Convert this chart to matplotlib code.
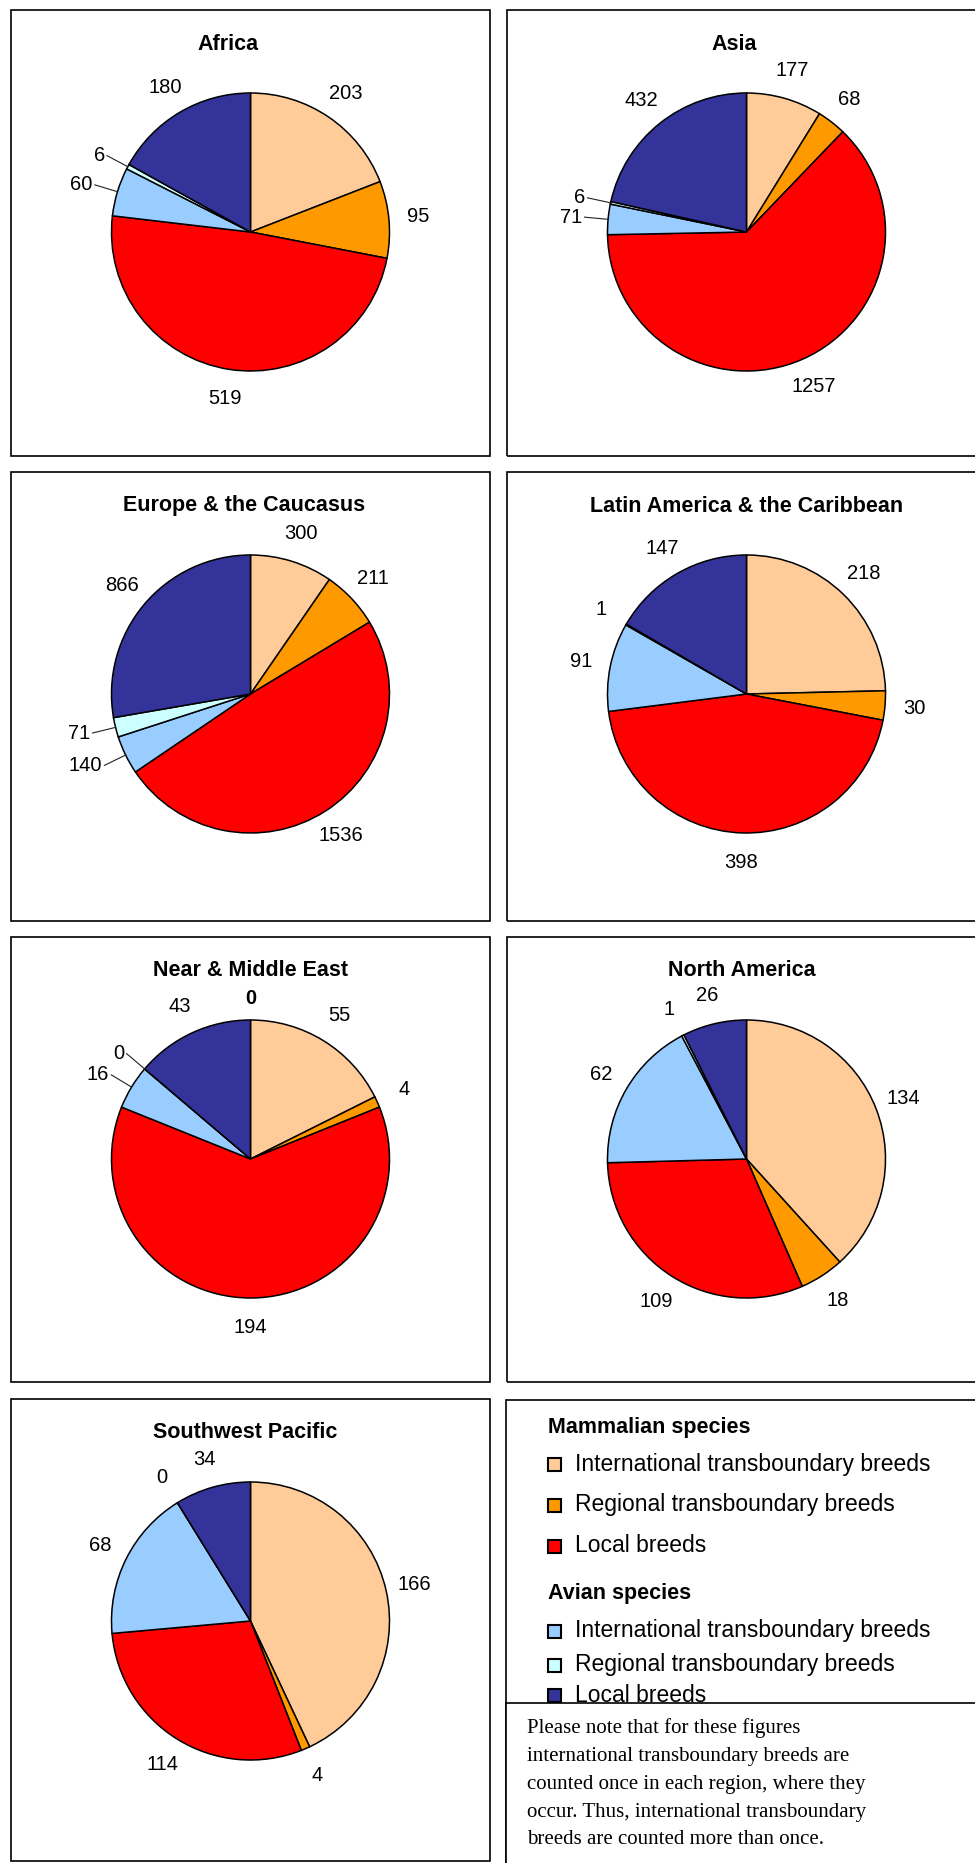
import numpy as np
import matplotlib.pyplot as plt
from matplotlib.patches import Rectangle

plt.rcParams["font.family"] = ["Liberation Sans", "DejaVu Sans"]

W, H = 975, 1863

# values per region, slice order:
# mammal intl, mammal regional, mammal local, avian intl, avian regional, avian local
regions = ["Africa", "Asia", "Europe & the Caucasus", "Latin America & the Caribbean",
           "Near & Middle East", "North America", "Southwest Pacific"]
africa = [203, 95, 519, 60, 6, 180]
asia = [177, 68, 1257, 71, 6, 432]
europe = [300, 211, 1536, 140, 71, 866]
latin_america = [218, 30, 398, 91, 1, 147]
near_east = [55, 4, 194, 16, 0, 43]
north_america = [134, 18, 109, 62, 1, 26]
sw_pacific = [166, 4, 114, 68, 0, 34]
near_east_extra = "0"

breed_types = ["International transboundary breeds", "Regional transboundary breeds", "Local breeds"]
groups = ["Mammalian species", "Avian species"]
colors = ["#FFCC99", "#FF9900", "#FF0000", "#99CCFF", "#CCFFFF", "#333399"]

note_lines = ["Please note that for these figures",
              "international transboundary breeds are",
              "counted once in each region, where they",
              "occur. Thus, international transboundary",
              "breeds are counted more than once."]

# labels that Excel drew with leader lines
leaders = {"Africa": [3, 4], "Asia": [3, 4], "Europe & the Caucasus": [3, 4],
           "Near & Middle East": [3, 4]}

# panel boxes in pixels
cols = [(11, 490), (507, 986)]
rows = [(10, 456), (472, 921), (937, 1382), (1399, 1861)]
title_dx = [-22, -12, -6, 0, 0, -5, -5]
R = 139


def Y(y):
    return H - y


fig = plt.figure(figsize=(W / 100, H / 100), dpi=100)
ax = fig.add_axes([0, 0, 1, 1])

data = [africa, asia, europe, latin_america, near_east, north_america, sw_pacific]
for i, (name, vals) in enumerate(zip(regions, data)):
    x0, x1 = cols[i % 2]
    y0, y1 = rows[i // 2]
    ax.add_patch(Rectangle((x0, Y(y1)), x1 - x0, y1 - y0, fill=False,
                           edgecolor="black", linewidth=1.2))
    cx = (x0 + x1) / 2
    cy = y0 + 222
    ax.pie(vals, colors=colors, startangle=90, counterclock=False,
           center=(cx, Y(cy)), radius=R,
           wedgeprops=dict(edgecolor="black", linewidth=1.1))
    ax.text(cx + title_dx[i], Y(y0 + 34), name, ha="center", va="center",
            fontsize=15.5, fontweight="bold")

    v = np.array(vals, dtype=float)
    mid = np.cumsum(v) - v / 2
    theta = np.deg2rad(90 - mid / v.sum() * 360)
    for j, val in enumerate(vals):
        dx, dy = np.cos(theta[j]), np.sin(theta[j])
        if j in leaders.get(name, []):
            ex, ey = cx + R * dx, Y(cy) + R * dy
            lx, ly = cx + 1.17 * R * dx, Y(cy) + 1.17 * R * dy
            ax.plot([ex, lx], [ey, ly], color="#222222", linewidth=0.8)
            ax.text(lx - 2, ly, str(val), ha="right", va="center", fontsize=14.5)
        else:
            ax.text(cx + 1.21 * R * dx, Y(cy) + 1.21 * R * dy, str(val),
                    ha="center", va="center", fontsize=14.5)
    if name == "Near & Middle East":
        ax.text(cx, Y(cy) + R + 22, near_east_extra, ha="center", va="center",
                fontsize=14.5, fontweight="bold")

# legend box
ax.add_patch(Rectangle((506, Y(1875)), 484, 1875 - 1400, fill=False,
                       edgecolor="black", linewidth=1.2))
head_y = [1427, 1593]
item_y = [[1464, 1505, 1546], [1631, 1665, 1695]]
for g, grp in enumerate(groups):
    ax.text(548, Y(head_y[g]), grp, ha="left", va="center", fontsize=15.5,
            fontweight="bold")
    for k, lab in enumerate(breed_types):
        yy = item_y[g][k]
        ax.add_patch(Rectangle((548, Y(yy) - 6.5), 13, 13,
                               facecolor=colors[g * 3 + k], edgecolor="black",
                               linewidth=1.5))
        ax.text(575, Y(yy), lab, ha="left", va="center", fontsize=16.5)

# note box covers bottom of legend
ax.add_patch(Rectangle((506, Y(1875)), 484, 1875 - 1703, facecolor="white",
                       edgecolor="black", linewidth=1.2, zorder=5))
for n, line in enumerate(note_lines):
    ax.text(527, Y(1728 + 28 * n), line, ha="left", va="center", fontsize=15,
            family="Liberation Serif", zorder=6)

ax.set_xlim(0, W)
ax.set_ylim(0, H)
ax.set_aspect("auto")
ax.set_axis_off()

fig.savefig("out.png", dpi=100)
